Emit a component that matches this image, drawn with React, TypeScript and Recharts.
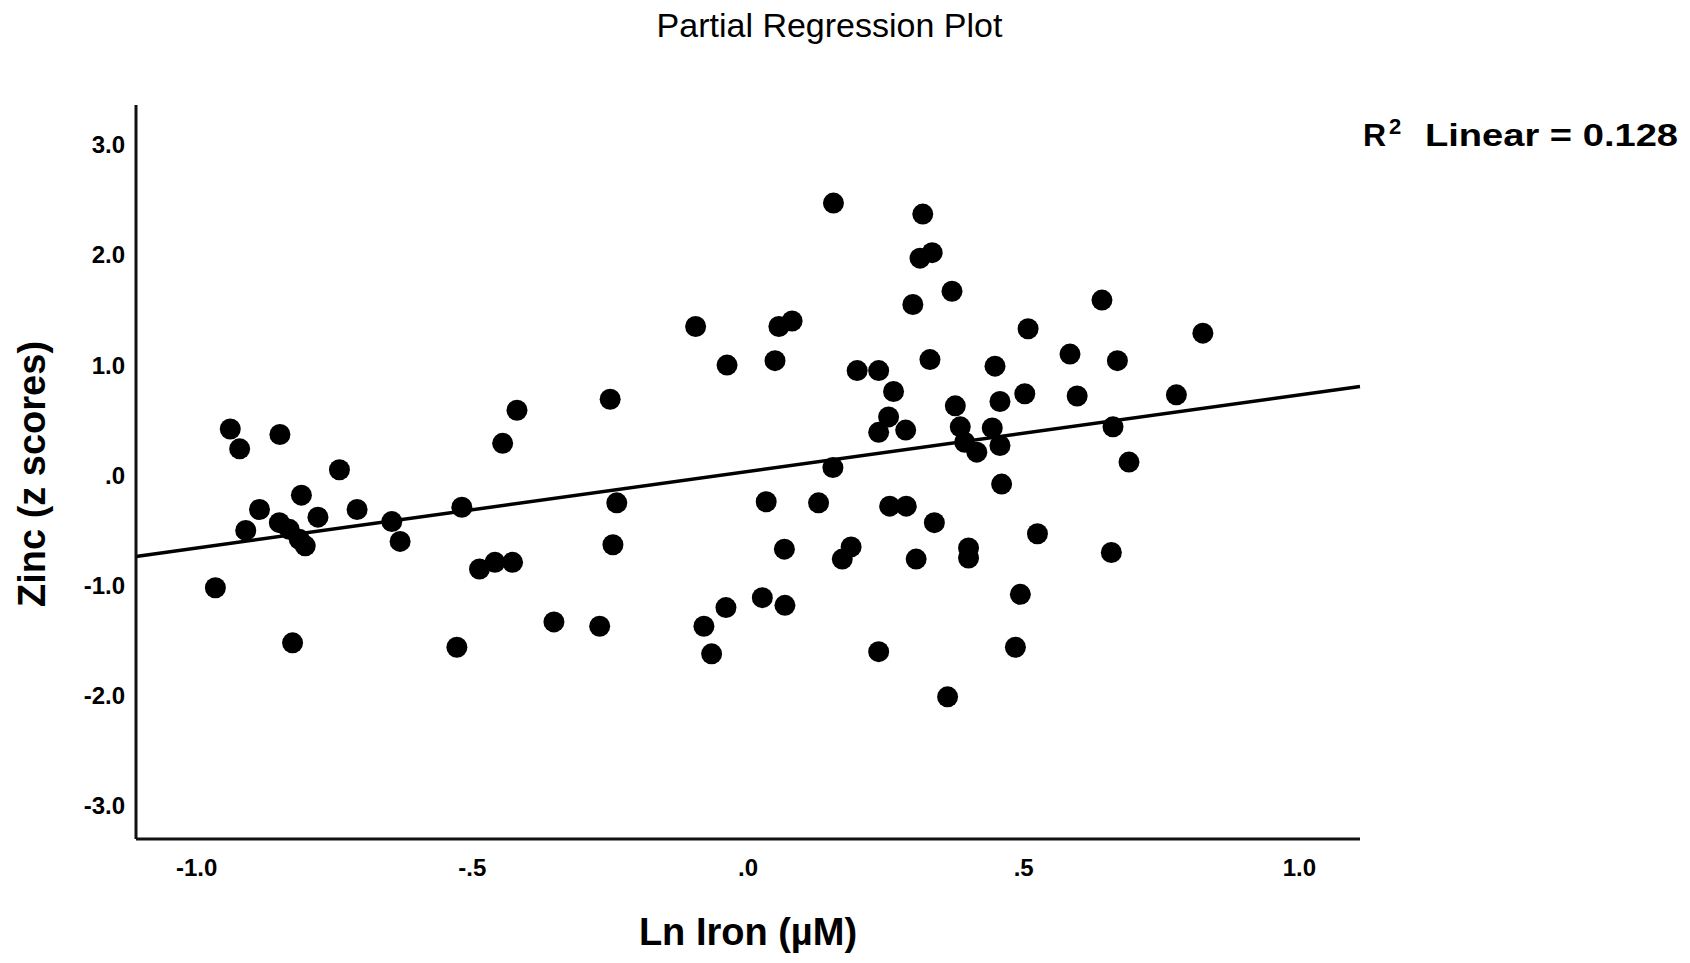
import { ScatterChart, Scatter, XAxis, YAxis, ReferenceLine } from "recharts";

// Ln Iron residuals (x) and Zinc z-score residuals (y)
const ironResidual = [
  -0.966, -0.939, -0.922, -0.911, -0.886, -0.85, -0.849, -0.832, -0.826, -0.814,
  -0.81, -0.803, -0.78, -0.741, -0.709, -0.646, -0.631, -0.528, -0.519, -0.487,
  -0.459, -0.445, -0.427, -0.419, -0.352, -0.269, -0.25, -0.245, -0.238, -0.095,
  -0.08, -0.066, -0.04, -0.038, 0.026, 0.033, 0.049, 0.056, 0.066, 0.067,
  0.08, 0.128, 0.154, 0.155, 0.171, 0.187, 0.198, 0.237, 0.237, 0.237,
  0.255, 0.257, 0.264, 0.286, 0.287, 0.299, 0.305, 0.312, 0.317, 0.33,
  0.334, 0.338, 0.362, 0.37, 0.376, 0.385, 0.393, 0.4, 0.4, 0.415,
  0.443, 0.448, 0.457, 0.457, 0.46, 0.485, 0.494, 0.502, 0.508, 0.525,
  0.584, 0.597, 0.642, 0.659, 0.662, 0.67, 0.691, 0.777, 0.825,
];

const zincResidual = [
  -1.02, 0.42, 0.24, -0.5, -0.31, -0.43, 0.37, -0.49, -1.52, -0.58,
  -0.18, -0.64, -0.38, 0.05, -0.31, -0.42, -0.6, -1.56, -0.29, -0.85,
  -0.79, 0.29, -0.79, 0.59, -1.33, -1.37, 0.69, -0.63, -0.25, 1.35,
  -1.37, -1.62, -1.2, 1.0, -1.11, -0.24, 1.04, 1.35, -0.67, -1.18,
  1.4, -0.25, 0.07, 2.47, -0.76, -0.65, 0.95, 0.95, 0.39, -1.6,
  0.53, -0.28, 0.76, 0.41, -0.28, 1.55, -0.76, 1.97, 2.37, 1.05,
  2.02, -0.43, -2.01, 1.67, 0.63, 0.44, 0.3, -0.66, -0.75, 0.21,
  0.43, 0.99, 0.67, 0.27, -0.08, -1.56, -1.08, 0.74, 1.33, -0.53,
  1.1, 0.72, 1.59, -0.7, 0.44, 1.04, 0.12, 0.73, 1.29,
];

// fit line end points (R2 linear = 0.128)
const fitLine = [
  { x: -1.11, y: -0.736 },
  { x: 1.11, y: 0.805 },
];

const xTicks = [-1, -0.5, 0, 0.5, 1];
const xTickLabels = ["-1.0", "-.5", ".0", ".5", "1.0"];
const yTicks = [3, 2, 1, 0, -1, -2, -3];
const yTickLabels = ["3.0", "2.0", "1.0", ".0", "-1.0", "-2.0", "-3.0"];

const points = ironResidual.map((x, i) => ({ x, y: zincResidual[i] }));

const FONT = '"Liberation Sans", Arial, sans-serif';
const tickStyle = { fontSize: 24, fontWeight: 700, fill: "#000", fontFamily: FONT };

const Dot = (props: any) => <circle cx={props.cx} cy={props.cy} r={10.5} fill="#000" />;

export default function App() {
  return (
    <div style={{ position: "absolute", left: 0, top: 0, width: 1690, height: 963, background: "#fff" }}>
      <ScatterChart width={1690} height={963} margin={{ top: 105, right: 330, bottom: 0, left: 0 }}>
        <XAxis
          type="number"
          dataKey="x"
          domain={[-1.11, 1.11]}
          allowDataOverflow
          ticks={xTicks}
          interval={0}
          tickFormatter={(v) => xTickLabels[xTicks.indexOf(v)] ?? String(v)}
          tick={tickStyle}
          tickLine={false}
          tickSize={0}
          tickMargin={20}
          axisLine={{ stroke: "#111", strokeWidth: 3 }}
          height={124}
          label={{
            content: ({ viewBox }: any) => (
              <text
                x={viewBox.x + viewBox.width / 2}
                y={viewBox.y + 106}
                textAnchor="middle"
                fontSize={38}
                fontWeight={700}
                fontFamily={FONT}
                fill="#000"
              >
                Ln Iron (µM)
              </text>
            ),
          }}
        />
        <YAxis
          type="number"
          dataKey="y"
          domain={[-3.3, 3.36]}
          allowDataOverflow
          ticks={yTicks}
          interval={0}
          tickFormatter={(v) => yTickLabels[yTicks.indexOf(v)] ?? String(v)}
          tick={tickStyle}
          tickLine={false}
          tickSize={0}
          tickMargin={11}
          axisLine={{ stroke: "#111", strokeWidth: 3 }}
          width={136}
          label={{
            content: ({ viewBox }: any) => {
              const cx = viewBox.x + 45;
              const cy = viewBox.y + viewBox.height / 2 + 2;
              return (
                <text
                  x={cx}
                  y={cy}
                  transform={`rotate(-90, ${cx}, ${cy})`}
                  textAnchor="middle"
                  fontSize={38}
                  fontWeight={700}
                  fontFamily={FONT}
                  fill="#000"
                >
                  Zinc (z scores)
                </text>
              );
            },
          }}
        />
        <ReferenceLine
          segment={[fitLine[0], fitLine[1]]}
          stroke="#000"
          strokeWidth={3.5}
          ifOverflow="visible"
        />
        <Scatter data={points} shape={Dot} isAnimationActive={false} />
      </ScatterChart>

      <svg
        width={1690}
        height={963}
        style={{ position: "absolute", left: 0, top: 0, pointerEvents: "none" }}
      >
        <text x={829.5} y={37} textAnchor="middle" fontSize={34} fontFamily={FONT} fill="#000">
          Partial Regression Plot
        </text>
        <text x={1363} y={146} fontSize={32} fontWeight={700} fontFamily={FONT} fill="#000">
          R
        </text>
        <text x={1389} y={134} fontSize={22} fontWeight={700} fontFamily={FONT} fill="#000">
          2
        </text>
        <text
          x={1425}
          y={146}
          fontSize={32}
          fontWeight={700}
          fontFamily={FONT}
          fill="#000"
          textLength={253}
          lengthAdjust="spacingAndGlyphs"
        >
          Linear = 0.128
        </text>
      </svg>
    </div>
  );
}
